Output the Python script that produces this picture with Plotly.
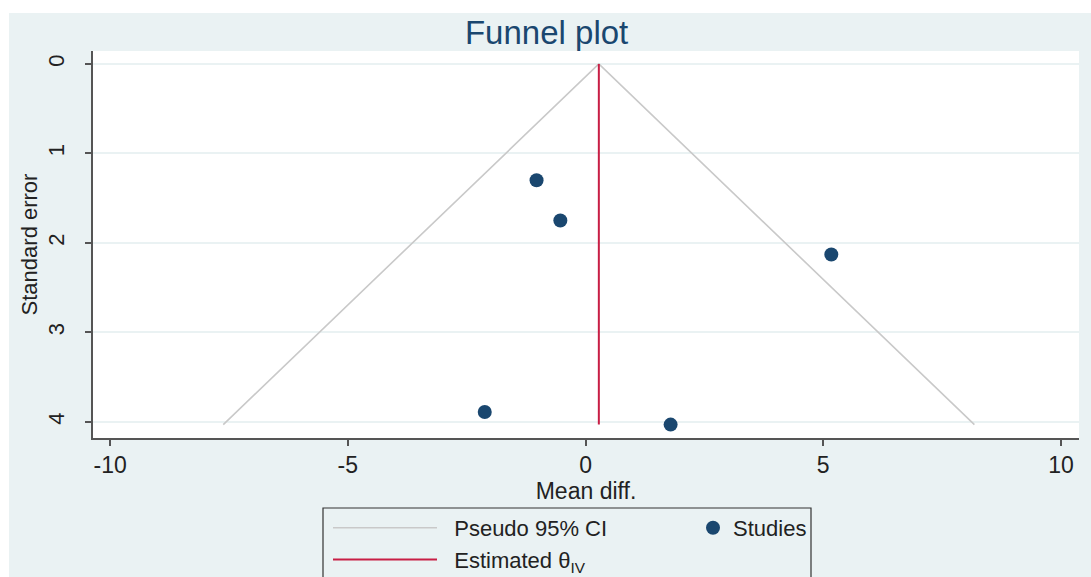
import plotly.graph_objects as go

# ---- data ----
study_mean_diff = [-1.03, -0.53, 5.17, -2.12, 1.79]
study_se = [1.30, 1.75, 2.13, 3.89, 4.03]
theta_iv = 0.28
funnel_x = [-7.62, 0.28, 8.18]
funnel_y = [4.03, 0.0, 4.03]
theta_line_y = [0.0, 4.03]
x_ticks = [-10, -5, 0, 5, 10]
x_tick_labels = ["-10", "-5", "0", "5", "10"]
y_ticks = [0, 1, 2, 3, 4]

W, H = 1091, 577
L, R, T, B = 93, 12, 51, 139
pw, ph = W - L - R, H - T - B

def px_x(p):
    return (p - L) / pw

def px_y(p):
    return (H - B - p) / ph

FONT = "Liberation Sans, Arial, sans-serif"
BG = "#eaf2f3"
NAVY = "#1a476f"
RED = "#c81e45"
TXT = "#222222"
PAD = "\u00a0\u00a0"

fig = go.Figure()
fig.add_trace(go.Scatter(
    x=funnel_x, y=funnel_y, mode="lines", name=PAD + "Pseudo 95% CI",
    line=dict(color="#c9c9c9", width=1.6), legend="legend"))
fig.add_trace(go.Scatter(
    x=study_mean_diff, y=study_se, mode="markers", name="Studies",
    marker=dict(color=NAVY, size=14), legend="legend2"))
fig.add_trace(go.Scatter(
    x=[theta_iv] * len(theta_line_y), y=theta_line_y, mode="lines",
    name=PAD + "Estimated θ<sub>IV</sub>",
    line=dict(color=RED, width=2), legend="legend"))

shapes = [
    dict(type="rect", xref="paper", yref="paper", layer="below",
         x0=px_x(9), x1=px_x(W + 5), y0=px_y(H + 5), y1=px_y(13),
         fillcolor=BG, line=dict(width=0)),
    dict(type="rect", xref="paper", yref="paper", layer="below",
         x0=0, x1=1, y0=0, y1=1, fillcolor="white", line=dict(width=0)),
    dict(type="rect", xref="paper", yref="paper", layer="above",
         x0=px_x(323), x1=px_x(811), y0=px_y(H + 5), y1=px_y(508),
         fillcolor="rgba(0,0,0,0)", line=dict(color="#333333", width=1.2)),
]

fig.update_layout(
    width=W, height=H,
    margin=dict(l=L, r=R, t=T, b=B, autoexpand=False),
    paper_bgcolor="white", plot_bgcolor="white",
    font=dict(family=FONT, color=TXT),
    title=dict(text="Funnel plot", x=px_x(587), xanchor="center",
               y=1 - 32 / H, yanchor="middle",
               font=dict(size=33, color=NAVY, family=FONT)),
    shapes=shapes,
    xaxis=dict(range=[-10.36, 10.38], tickvals=x_ticks, ticktext=x_tick_labels,
               showgrid=False,
               zeroline=False, showline=True, linecolor="#555555", linewidth=1.5,
               ticks="outside", ticklen=6, tickcolor="#555555", tickwidth=1.5,
               tickfont=dict(size=23, color=TXT),
               title=dict(text="Mean diff.", font=dict(size=23, color=TXT),
                          standoff=0)),
    yaxis=dict(range=[4.18, -0.145], tickvals=y_ticks, tickangle=-90,
               showgrid=True, gridcolor=BG, gridwidth=1.5,
               zeroline=False, showline=True, linecolor="#555555", linewidth=1.5,
               ticks="outside", ticklen=6, tickcolor="#555555", tickwidth=1.5,
               ticklabelstandoff=12,
               tickfont=dict(size=22, color=TXT),
               title=dict(text="Standard error", font=dict(size=22, color=TXT),
                          standoff=1)),
    legend=dict(x=px_x(328), y=px_y(507), xanchor="left", yanchor="top",
                bgcolor="rgba(0,0,0,0)", borderwidth=0, itemwidth=104,
                font=dict(size=22, color=TXT), traceorder="normal",
                tracegroupgap=0),
    legend2=dict(x=px_x(693), y=px_y(507), xanchor="left", yanchor="top",
                 bgcolor="rgba(0,0,0,0)", borderwidth=0, itemwidth=30,
                 font=dict(size=22, color=TXT)),
    showlegend=True,
)

fig.write_html("out.html")
